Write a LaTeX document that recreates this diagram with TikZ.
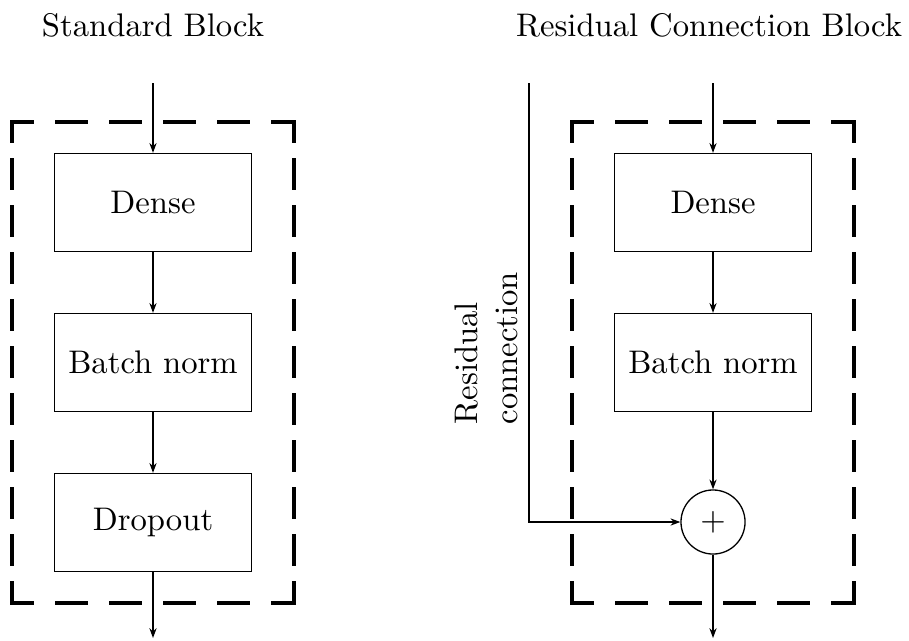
\documentclass[tikz,border=0pt]{standalone}
\usepackage{tikz}
\usetikzlibrary{arrows.meta}

\begin{document}
\begin{tikzpicture}[x=0.306pt, y=0.306pt,
  layer/.style={draw, line width=0.4pt, minimum width=60.3pt, minimum height=30pt, inner sep=0pt},
  flow/.style={-{Stealth[length=3pt,width=2.2pt]}},
  frame/.style={minimum width=85.7pt, minimum height=146.6pt, inner sep=0pt},
  hside/.style={line width=1.2pt, line cap=rect, dash pattern=on 8.874pt off 7.65pt, dash phase=2.9pt},
  vside/.style={line width=1.2pt, line cap=rect, dash pattern=on 8.568pt off 5.814pt, dash phase=2.9pt}]
\useasboundingbox (0,0) rectangle (909,640);
\node[anchor=base] (title1) at (153,603) {Standard Block};
\node[anchor=base] (title2) at (709,603) {Residual Connection Block};
\node[layer] (dense1) at (153,437.5) {Dense};
\node[layer] (norm1) at (153,277.5) {Batch norm};
\node[layer] (drop1) at (153,117.5) {Dropout};
\node[frame] (block1) at (norm1) {};
\coordinate (in1) at (153,557);
\coordinate (out1) at (153,2);
\draw[flow] (in1) -- (dense1);
\draw[flow] (dense1) -- (norm1);
\draw[flow] (norm1) -- (drop1);
\draw[flow] (drop1) -- (out1);
\node[layer] (dense2) at (713,437.5) {Dense};
\node[layer] (norm2) at (713,277.5) {Batch norm};
\node[circle, draw, line width=0.4pt, minimum size=19.6pt, inner sep=0pt] (add2) at (713,118) {$+$};
\node[frame] (block2) at (norm2) {};
\coordinate (in2) at (713,557);
\coordinate (out2) at (713,2);
\coordinate (skip2) at (529,557);
\draw[flow] (in2) -- (dense2);
\draw[flow] (dense2) -- (norm2);
\draw[flow] (norm2) -- (add2);
\draw[flow] (add2) -- (out2);
\draw[flow] (skip2) |- (add2);
\node[rotate=90, align=left, anchor=south west, inner sep=0pt] (skiplabel) at (518,215) {Residual\\connection};
\foreach \b in {block1,block2} {
  \draw[hside] (\b.north west) -- (\b.north east) (\b.south west) -- (\b.south east);
  \draw[vside] (\b.north west) -- (\b.south west) (\b.north east) -- (\b.south east);
}
\end{tikzpicture}
\end{document}
